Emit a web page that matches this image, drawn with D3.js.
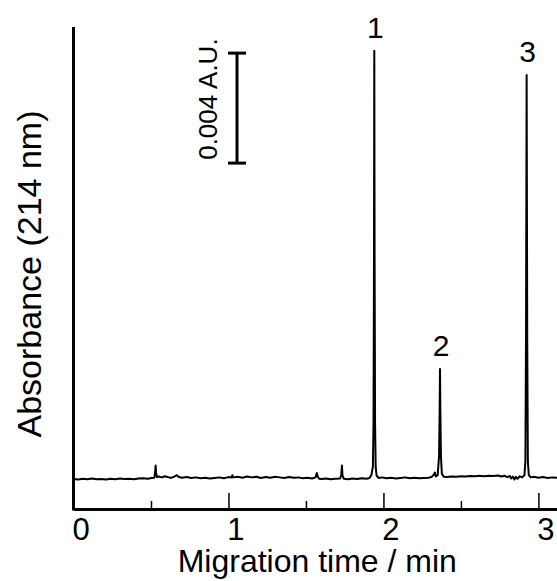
<!DOCTYPE html>
<html>
<head>
<meta charset="utf-8">
<script src="https://cdn.jsdelivr.net/npm/d3@7"></script>
<style>
  body { margin: 0; background: #fff; }
  svg { display: block; }
  text { font-family: "Liberation Sans", Arial, sans-serif; fill: #000; }
</style>
</head>
<body>
<div id="chart"></div>
<script>
// migration time (min) and absorbance (mAU)
const times = [
  0.000, 0.030, 0.060, 0.090, 0.120, 0.150, 0.180, 0.210, 0.240, 0.270,
  0.300, 0.330, 0.360, 0.390, 0.420, 0.450, 0.480, 0.505, 0.522, 0.527,
  0.530, 0.533, 0.538, 0.550, 0.570, 0.590, 0.610, 0.630, 0.650, 0.667,
  0.680, 0.700, 0.730, 0.760, 0.790, 0.820, 0.850, 0.880, 0.910, 0.940,
  0.970, 1.000, 1.020, 1.025, 1.030, 1.060, 1.090, 1.120, 1.150, 1.180,
  1.210, 1.240, 1.270, 1.300, 1.330, 1.360, 1.390, 1.420, 1.450, 1.480,
  1.510, 1.540, 1.562, 1.570, 1.576, 1.585, 1.600, 1.630, 1.660, 1.690,
  1.720, 1.728, 1.732, 1.736, 1.745, 1.770, 1.800, 1.830, 1.860, 1.890,
  1.910, 1.922, 1.932, 1.936, 1.939, 1.941, 1.943, 1.946, 1.950, 1.956,
  1.970, 1.990, 2.020, 2.050, 2.080, 2.110, 2.140, 2.170, 2.200, 2.230,
  2.260, 2.290, 2.310, 2.325, 2.332, 2.338, 2.350, 2.359, 2.363, 2.365,
  2.367, 2.371, 2.377, 2.390, 2.410, 2.440, 2.470, 2.500, 2.530, 2.560,
  2.590, 2.620, 2.650, 2.680, 2.710, 2.740, 2.760, 2.780, 2.800, 2.815,
  2.825, 2.835, 2.845, 2.855, 2.865, 2.880, 2.895, 2.910, 2.916, 2.920,
  2.924, 2.928, 2.932, 2.938, 2.950, 2.970, 3.000, 3.030, 3.060, 3.090,
  3.120
];
const absorbance = [
  -0.04, -0.06, -0.03, -0.05, -0.02, -0.05, -0.04, -0.06, -0.03, -0.05,
  -0.02, -0.04, -0.03, -0.05, -0.02, -0.01, -0.03, 0.00, 0.01, 0.25,
  0.45, 0.20, 0.03, 0.05, 0.02, 0.06, 0.03, 0.00, 0.05, 0.10,
  0.03, 0.01, 0.03, 0.00, 0.02, -0.01, 0.01, -0.02, 0.00, 0.02,
  -0.01, 0.03, 0.02, 0.10, 0.02, 0.04, 0.01, 0.05, 0.02, 0.04,
  0.00, 0.03, 0.01, 0.04, 0.02, 0.00, 0.03, 0.01, 0.02, -0.01,
  0.01, -0.02, 0.02, 0.18, 0.05, -0.03, -0.04, -0.02, -0.05, -0.03,
  -0.02, 0.10, 0.45, 0.08, -0.03, -0.05, -0.02, -0.04, -0.01, -0.03,
  0.00, 0.10, 0.40, 2.00, 8.00, 15.54, 8.00, 2.00, 0.40, 0.08,
  0.00, 0.02, -0.01, 0.01, -0.02, 0.00, 0.02, -0.01, 0.01, -0.01,
  0.00, 0.01, 0.03, 0.12, 0.20, 0.05, 0.10, 0.80, 2.60, 3.96,
  2.60, 0.80, 0.15, 0.04, 0.03, 0.05, 0.04, 0.06, 0.05, 0.07,
  0.06, 0.08, 0.06, 0.08, 0.07, 0.09, 0.05, 0.08, 0.03, 0.07,
  -0.02, 0.05, -0.06, 0.04, -0.03, 0.06, 0.02, 0.10, 0.60, 5.00,
  14.65, 5.00, 0.60, 0.10, 0.02, 0.04, 0.01, 0.03, 0.00, 0.02,
  0.01
];

const peakLabels = ["1", "2", "3"];
const peakTimes = [1.941, 2.365, 2.924];
const peakHeights = [15.54, 3.96, 14.65];

const majorTicks = [0, 1, 2, 3];
const minorTicks = [0.5, 1.5, 2.5];

// scale bar: 4 mAU = 0.004 A.U.
const scaleBarTime = 1.055;
const scaleBarRange = [11.45, 15.45];
const scaleBarText = "0.004 A.U.";

const width = 557, height = 581;

const svg = d3.select("#chart").append("svg")
  .attr("width", width)
  .attr("height", height);

const x = d3.scaleLinear().domain([0, 3.12]).range([73.5, 557]);
const y = d3.scaleLinear().domain([-1.13, 16.4]).range([509, 27]);

// trace
const line = d3.line()
  .x((d, i) => x(times[i]))
  .y(d => y(d));

svg.append("path")
  .datum(absorbance)
  .attr("d", line)
  .attr("fill", "none")
  .attr("stroke", "#000")
  .attr("stroke-width", 2)
  .attr("stroke-linejoin", "round");

// x axis, ticks pointing up into the plot
const xAxis = svg.append("g")
  .attr("transform", `translate(0,${y.range()[0]})`)
  .call(d3.axisBottom(x).tickValues(majorTicks).tickSizeInner(-16).tickSizeOuter(0)
    .tickFormat(d3.format("d")));

xAxis.select(".domain").attr("stroke-width", 3);
xAxis.selectAll(".tick line").attr("stroke-width", 1.5);
xAxis.selectAll(".tick text")
  .attr("y", 31)
  .attr("dy", 0)
  .attr("dx", 7)
  .style("font-size", "31px")
  .style("font-family", "'Liberation Sans', Arial, sans-serif")
  .attr("fill", "#000");

svg.append("g")
  .attr("transform", `translate(0,${y.range()[0]})`)
  .call(d3.axisBottom(x).tickValues(minorTicks).tickSizeInner(-8).tickSizeOuter(0).tickFormat(""))
  .call(g => g.select(".domain").remove())
  .selectAll(".tick line").attr("stroke-width", 1.5);

// y axis, bare line
svg.append("g")
  .attr("transform", `translate(${x(0)},0)`)
  .call(d3.axisLeft(y).tickValues([]).tickSizeOuter(0))
  .select(".domain")
  .attr("stroke-width", 3)
  .attr("d", `M0,${y.range()[1]}V${y.range()[0] + 1.5}`);

// axis titles
svg.append("text")
  .attr("x", (x(0) + width) / 2 + 2)
  .attr("y", 572)
  .attr("text-anchor", "middle")
  .style("font-size", "32px")
  .text("Migration time / min");

svg.append("text")
  .attr("transform", `translate(41,274) rotate(-90)`)
  .attr("text-anchor", "middle")
  .style("font-size", "34px")
  .text("Absorbance (214 nm)");

// peak numbers
svg.selectAll(".peak-label")
  .data(peakLabels)
  .enter()
  .append("text")
  .attr("class", "peak-label")
  .attr("x", (d, i) => x(peakTimes[i]) + 1)
  .attr("y", (d, i) => y(peakHeights[i]) - 13)
  .attr("text-anchor", "middle")
  .style("font-size", "30px")
  .text(d => d);

// scale bar
const sb = svg.append("g").attr("stroke", "#000").attr("stroke-width", 3);
sb.append("line")
  .attr("x1", x(scaleBarTime)).attr("x2", x(scaleBarTime))
  .attr("y1", y(scaleBarRange[0])).attr("y2", y(scaleBarRange[1]));
scaleBarRange.forEach(v => {
  sb.append("line")
    .attr("x1", x(scaleBarTime) - 9).attr("x2", x(scaleBarTime) + 9)
    .attr("y1", y(v)).attr("y2", y(v));
});

svg.append("text")
  .attr("transform", `translate(217,${(y(scaleBarRange[0]) + y(scaleBarRange[1])) / 2 - 9}) rotate(-90)`)
  .attr("text-anchor", "middle")
  .style("font-size", "26px")
  .text(scaleBarText);
</script>
</body>
</html>
